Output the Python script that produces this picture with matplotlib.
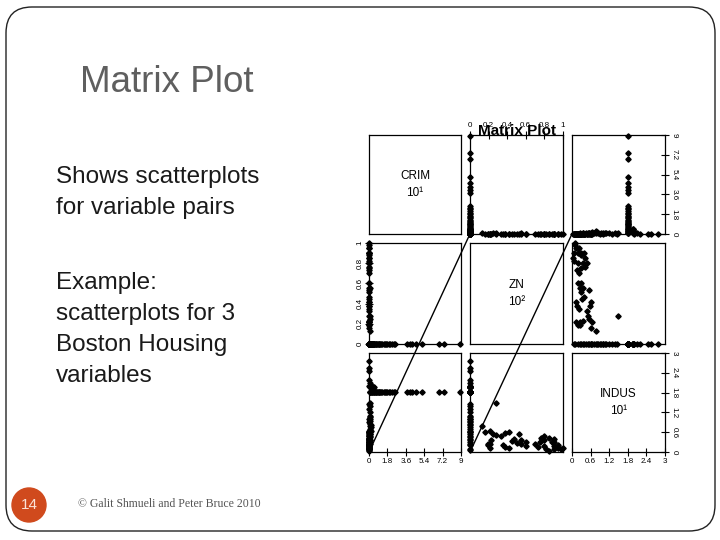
import matplotlib
matplotlib.use("Agg")
import matplotlib.pyplot as plt
import numpy as np
from matplotlib.patches import FancyBboxPatch, Circle

# Boston Housing subset, scaled: CRIM /10, ZN /100, INDUS /10
# rows with ZN > 0 (low crime, mostly low INDUS)
zn_hi_zn = [1.00, 0.95, 0.95, 0.90, 0.90, 0.90, 0.90, 0.85, 0.85, 0.82, 0.80, 0.80,
            0.80, 0.75, 0.76, 0.70, 0.60, 0.60, 0.55, 0.55, 0.53, 0.45, 0.42, 0.42,
            0.38, 0.35, 0.38, 0.33, 0.28, 0.28, 0.22, 0.22, 0.23, 0.25, 0.22, 0.16,
            0.125, 0.19, 0.19, 0.47, 0.51, 0.73, 0.88, 0.98]
zn_hi_indus = [0.11, 0.12, 0.22, 0.08, 0.19, 0.30, 0.38, 0.02, 0.41, 0.08, 0.19, 0.35,
               0.48, 0.30, 0.41, 0.23, 0.19, 0.30, 0.25, 0.35, 0.55, 0.33, 0.13, 0.62,
               0.15, 0.22, 0.58, 0.48, 1.48, 0.51, 0.13, 0.25, 0.35, 0.56, 0.65, 0.62,
               0.78, 0.25, 0.20, 0.40, 0.28, 0.15, 0.30, 0.10]
zn_hi_crim = [0.01, 0.02, 0.00, 0.01, 0.03, 0.01, 0.02, 0.00, 0.01, 0.02, 0.01, 0.03,
              0.02, 0.01, 0.04, 0.02, 0.01, 0.03, 0.02, 0.05, 0.04, 0.01, 0.02, 0.03,
              0.01, 0.02, 0.04, 0.03, 0.06, 0.02, 0.01, 0.03, 0.02, 0.05, 0.04, 0.02,
              0.07, 0.01, 0.03, 0.02, 0.01, 0.02, 0.01, 0.01]

# ZN = 0, INDUS = 18.1 group
grp_a_crim = [0.05, 0.10, 0.13, 0.18, 0.25, 0.30, 0.38, 0.45, 0.50, 0.58, 0.65, 0.72,
              0.80, 0.88, 0.95, 1.02, 1.10, 1.20, 1.30, 1.42, 1.55, 1.68, 1.80, 1.95,
              2.10, 2.25, 2.40, 2.55, 3.75, 4.00, 4.25, 4.60, 5.15, 6.85, 7.35, 8.90]
grp_a_indus = [1.81] * len(grp_a_crim)

# ZN = 0, INDUS = 19.58 group
grp_b_crim = [0.10, 0.15, 0.20, 0.25, 0.30, 0.35, 0.42, 0.48]
grp_b_indus = [1.958] * len(grp_b_crim)

# ZN = 0, low crime, other INDUS
grp_c_indus = [0.05, 0.10, 0.20, 0.25, 0.30, 0.35, 0.40, 0.45, 0.50, 0.55, 0.60, 0.62,
               0.65, 0.70, 0.76, 0.81, 0.85, 0.90, 0.95, 0.99, 1.00, 1.05, 1.10, 1.20,
               1.30, 1.38, 1.46, 2.00, 2.10, 2.18, 2.45, 2.56, 2.77]
grp_c_crim = [0.02, 0.01, 0.03, 0.05, 0.02, 0.08, 0.04, 0.10, 0.06, 0.12, 0.03, 0.08,
              0.15, 0.05, 0.23, 0.20, 0.09, 0.04, 0.11, 0.07, 0.02, 0.06, 0.09, 0.05,
              0.03, 0.08, 0.04, 0.02, 0.05, 0.03, 0.04, 0.02, 0.03]

var_names = ["CRIM", "ZN", "INDUS"]
var_scale = ["10\u00b9", "10\u00b2", "10\u00b9"]
var_max = [9, 1, 3]
var_ticks = [["0", "1.8", "3.6", "5.4", "7.2", "9"],
             ["0", "0.2", "0.4", "0.6", "0.8", "1"],
             ["0", "0.6", "1.2", "1.8", "2.4", "3"]]

# end points of the fitted lines drawn from the bottom row (data units)
fit_x_end = [9.88, 1.097]
fit_y_end = [6.61, 6.61]

crim = np.array(zn_hi_crim + grp_a_crim + grp_b_crim + grp_c_crim)
zn = np.array(zn_hi_zn + [0.0] * (len(grp_a_crim) + len(grp_b_crim) + len(grp_c_crim)))
indus = np.array(zn_hi_indus + grp_a_indus + grp_b_indus + grp_c_indus)
data = [crim, zn, indus]

W, H = 720, 540
fig = plt.figure(figsize=(7.2, 5.4), dpi=100)
fig.patch.set_facecolor("white")

# slide background in pixel coordinates
bg = fig.add_axes([0, 0, 1, 1])
bg.set_xlim(0, W)
bg.set_ylim(H, 0)
bg.axis("off")
bg.add_patch(FancyBboxPatch((6, 7), 709, 524, boxstyle="round,pad=0,rounding_size=26",
                            fill=False, ec="#222222", lw=1.0))
bg.text(80, 83, "Matrix Plot", fontsize=26.5, color="#5f5f5f", va="center", ha="left",
        family="Liberation Sans")
body = ["Shows scatterplots", "for variable pairs", None,
        "Example:", "scatterplots for 3", "Boston Housing", "variables"]
line_y = [177, 208, None, 283, 314, 345, 376]
for txt, yy in zip(body, line_y):
    if txt:
        bg.text(56, yy, txt, fontsize=17.5, color="#1a1a1a", va="center", ha="left",
                family="Liberation Sans")
bg.add_patch(Circle((29, 505), 17, color="#d04a1d"))
bg.text(29, 505, "14", fontsize=11, color="#fbe3d8", ha="center", va="center",
        family="Liberation Sans")
bg.text(78, 504, "\u00a9 Galit Shmueli and Peter Bruce 2010", fontsize=8.5, color="#555555",
        ha="left", va="center", family="Liberation Serif")

cols = [(369, 461), (470, 563), (572, 665)]
rows = [(135, 234), (243, 344), (353, 452)]

tick_font = dict(fontsize=5.8, family="Liberation Sans")


def px_axes(x0, x1, y0, y1):
    return fig.add_axes([x0 / W, 1 - y1 / H, (x1 - x0) / W, (y1 - y0) / H])


axes = {}
for i in range(3):
    for j in range(3):
        ax = px_axes(cols[j][0], cols[j][1], rows[i][0], rows[i][1])
        ax.set_facecolor("none")
        ax.set_xlim(0, var_max[j])
        ax.set_ylim(0, var_max[i])
        for s in ax.spines.values():
            s.set_linewidth(0.9)
        ax.tick_params(which="both", bottom=False, top=False, left=False, right=False,
                       labelbottom=False, labeltop=False, labelleft=False, labelright=False,
                       direction="inout", length=6, width=0.8, pad=1)
        if i == j:
            ax.text(0.5, 0.5, var_names[i] + "\n" + var_scale[i], transform=ax.transAxes,
                    ha="center", va="center", fontsize=8.5, linespacing=1.45,
                    family="Liberation Sans")
        else:
            ax.plot(data[j], data[i], ls="none", marker="D", ms=2.7, color="black",
                    clip_on=False)
        axes[(i, j)] = ax


def set_ticks(ax, axis, k, side):
    vals = np.linspace(0, var_max[k], 6)
    if axis == "x":
        ax.set_xticks(vals)
        ax.set_xticklabels(var_ticks[k], **tick_font)
        ax.tick_params(axis="x", **{side: True, "label" + side: True})
    else:
        ax.set_yticks(vals)
        rot = 90 if side == "left" else -90
        ax.set_yticklabels(var_ticks[k], rotation=rot, va="center", **tick_font)
        ax.tick_params(axis="y", **{side: True, "label" + side: True})


set_ticks(axes[(0, 1)], "x", 1, "top")
set_ticks(axes[(0, 2)], "y", 0, "right")
set_ticks(axes[(1, 0)], "y", 1, "left")
set_ticks(axes[(2, 0)], "x", 0, "bottom")
set_ticks(axes[(2, 2)], "x", 2, "bottom")
set_ticks(axes[(2, 2)], "y", 2, "right")

# fitted lines from the bottom row spilling upward
for j, (xe, ye) in enumerate(zip(fit_x_end, fit_y_end)):
    axes[(2, j)].plot([0, xe], [0, ye], color="black", lw=1.0, clip_on=False)

# inner chart title, overlapping the top tick labels as in the original
axes[(0, 1)].text(0.5, 0.0, "Matrix Plot", transform=axes[(0, 1)].transAxes,
                  ha="center", va="baseline", fontsize=11, fontweight="bold",
                  family="Liberation Sans", zorder=5,
                  bbox=None)
axes[(0, 1)].texts[-1].set_y(1.0)

fig.savefig("out.png", dpi=100)
